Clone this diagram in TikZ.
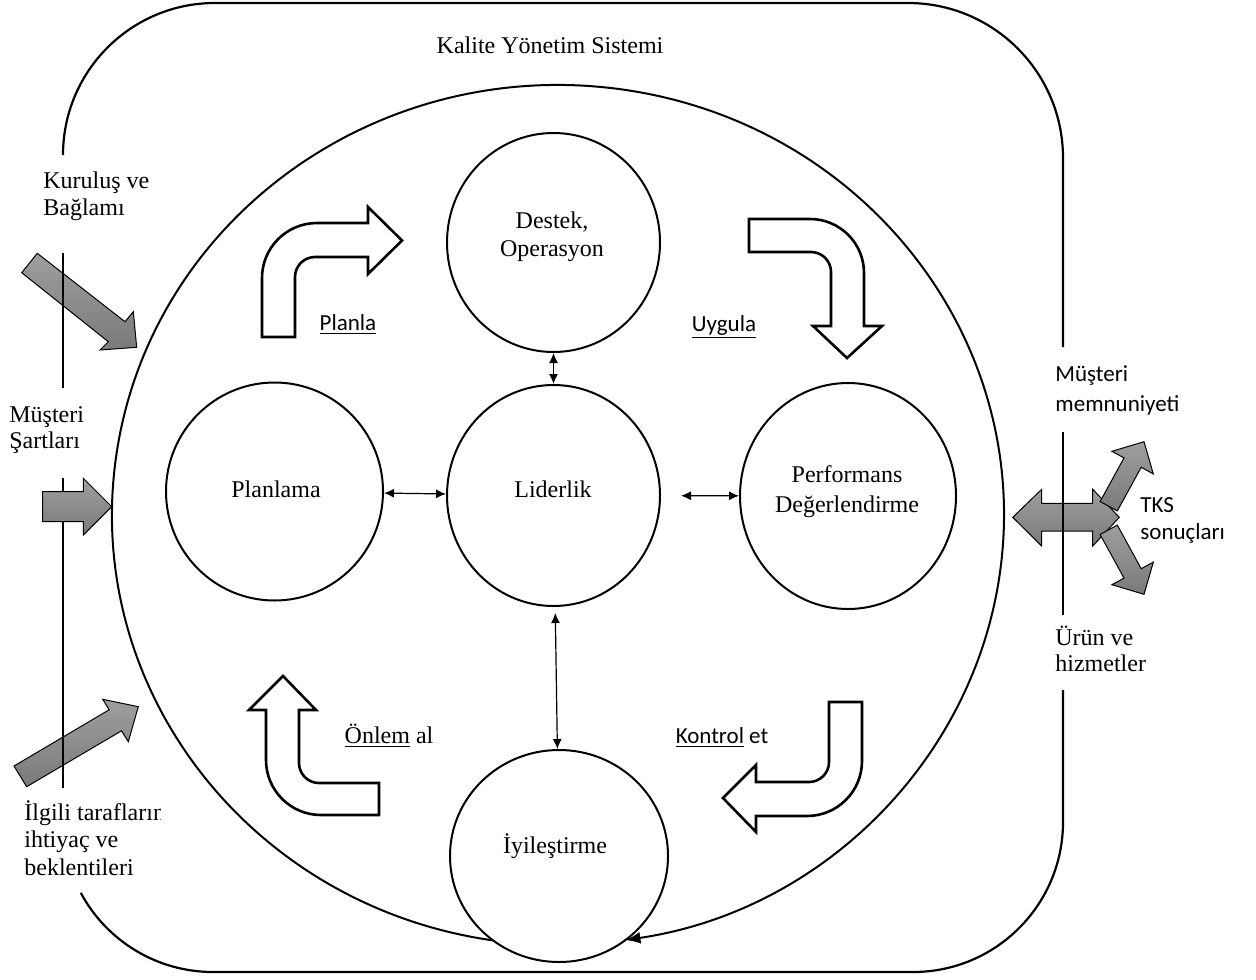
\documentclass[tikz,border=0pt]{standalone}
\usepackage{fontspec}
\setmainfont{Liberation Serif}
\newfontfamily\calib{Carlito}
\usetikzlibrary{arrows.meta,shapes.geometric}
\begin{document}
\begin{tikzpicture}[x=0.5pt,y=-0.5pt,
  frame/.style={line width=1.1pt},
  circ/.style={draw, ellipse, line width=1pt, fill=white, inner sep=0pt},
  dbl/.style={{Latex[length=5pt,width=4.5pt]}-{Latex[length=5pt,width=4.5pt]}, line width=0.6pt},
  bent/.style={draw, line width=1.3pt, fill=white, line join=miter},
  grayarrow/.style={draw=black, line width=0.5pt, top color=black!38, bottom color=black!52},
  lbl/.style={font=\fontsize{12}{13.5}\selectfont, inner sep=0pt},
  clbl/.style={font=\calib\fontsize{11.5}{13.5}\selectfont, inner sep=0pt},
]
\useasboundingbox (0,0) rectangle (1256,979);

% gray input arrows (under the frame lines)
\path[grayarrow] (21.7,272.7) -- (37.3,253.3) -- (125,321.7) -- (133.3,311.7) -- (136.7,347.3) -- (100,350) -- (108.3,341.7) -- cycle;
\path[grayarrow] (14,766) -- (109.1,709.8) -- (102.7,699.3) -- (138.3,706.7) -- (128.3,741.7) -- (121.5,730.8) -- (26.7,786.7) -- cycle;
\path[grayarrow] (1012.7,517.3) -- (1041.7,489.3) -- (1041.7,503.3) -- (1092.7,503.3) -- (1092.7,489.3) -- (1119.3,517.3) -- (1092.7,546) -- (1092.7,531) -- (1041.7,531) -- (1041.7,546) -- cycle;

% outer frame (with gaps for the labels)
\draw[frame] (63,155) arc[start angle=180, end angle=270, radius=152] -- (908,3) arc[start angle=270, end angle=360, radius=155] -- (1063,347);
\draw[frame] (63,253) -- (63,388);
\draw[frame] (63,478) -- (63,788);
\draw[frame] (1063,432) -- (1063,615);
\draw[frame] (1063,690) -- (1063,822) arc[start angle=0, end angle=90, radius=150] -- (213,972) arc[start angle=90, end angle=151.8, radius=150];

% arrows drawn over the frame
\path[grayarrow] (42.7,491.7) -- (83.3,491.7) -- (83.3,478.3) -- (111.7,506.7) -- (83.3,535) -- (83.3,521.7) -- (42.7,521.7) -- cycle;
\path[grayarrow] (1100.1,501.5) -- (1124.0,457.9) -- (1111.9,451.3) -- (1144.0,441.7) -- (1153.3,473.9) -- (1141.2,467.3) -- (1117.3,510.9) -- cycle;
\path[grayarrow] (1100.1,534.5) -- (1124.0,578.1) -- (1111.9,584.7) -- (1144.0,594.3) -- (1153.3,562.1) -- (1141.2,568.7) -- (1117.3,525.1) -- cycle;

% big cycle
\draw[line width=1pt, -{Latex[length=7.5pt,width=6pt]}] (495.9,940.8) arc[start angle=98, end angle=441.3, x radius=446, y radius=430];

% process circles
\node[circ, minimum width=106.5pt, minimum height=109.5pt] (dest) at (553.5,242.5) {};
\node[circ, minimum width=106.5pt, minimum height=110.5pt] (lid) at (553.5,495.5) {};
\node[circ, minimum width=108.5pt, minimum height=109pt] (plan) at (274.5,491.5) {};
\node[circ, minimum width=108pt, minimum height=113pt] (perf) at (848,496) {};
\node[circ, minimum width=109pt, minimum height=106pt] (iyi) at (559,856) {};

\draw[dbl] (dest) -- (lid);
\draw[dbl] (plan) -- (lid);
\draw[dbl, shorten <=10pt] (lid) -- (perf);
\draw[dbl, shorten <=3pt] (lid) -- (iyi);

% bent PDCA arrows
\draw[bent] (262,337) -- (262,278) arc[start angle=180, end angle=270, radius=55] -- (368,223) -- (368,207) -- (402,240.5) -- (368,274) -- (368,257) -- (315,257) arc[start angle=270, end angle=180, radius=20] -- (295,337) -- cycle;
\draw[bent] (749,219) -- (810,219) arc[start angle=270, end angle=360, radius=54] -- (864,326) -- (882,326) -- (847,358) -- (813,326) -- (831,326) -- (831,272) arc[start angle=0, end angle=-90, radius=20] -- (749,252) -- cycle;
\draw[bent] (283,676) -- (316,710) -- (299,710) -- (299,763) arc[start angle=180, end angle=90, radius=20] -- (379,783) -- (379,815) -- (321,815) arc[start angle=90, end angle=180, radius=55] -- (266,710) -- (249,710) -- cycle;
\draw[bent] (829,702) -- (862,702) -- (862,761) arc[start angle=0, end angle=90, radius=55] -- (756,816) -- (756,832) -- (723,798) -- (756,765) -- (756,782) -- (809,782) arc[start angle=90, end angle=0, radius=20] -- cycle;

% texts (anchor=base is the baseline of the last line)
\node[lbl, anchor=base] (title) at (550,54) {Kalite Yönetim Sistemi};
\node[lbl, anchor=base, align=center, font=\fontsize{12}{14}\selectfont] (destt) at (552,256) {Destek,\\Operasyon};
\node[lbl, anchor=base] (lidt) at (553,497) {Liderlik};
\node[lbl, anchor=base] (plant) at (276,497) {Planlama};
\node[lbl, anchor=base, align=center, font=\fontsize{12}{15}\selectfont] (perft) at (847,512) {Performans\\Değerlendirme};
\node[lbl, anchor=base] (iyit) at (555,853) {İyileştirme};
\node[clbl, anchor=base] (planla) at (348,330) {\underline{Planla}};
\node[clbl, anchor=base] (uygula) at (724,331) {\underline{Uygula}};
\node[lbl, anchor=base] (onlem) at (389,743) {\underline{Önlem} al};
\node[clbl, anchor=base] (kontrol) at (722,743) {\underline{Kontrol} et};

\node[lbl, anchor=base west, align=left] (kur) at (43,215) {Kuruluş ve\\Bağlamı};
\node[lbl, anchor=base west, align=left, font=\fontsize{12}{13}\selectfont] (msart) at (9,448) {Müşteri\\Şartları};
\begin{scope}
\clip (0,790) rectangle (160,900);
\node[lbl, anchor=base west, align=left, font=\fontsize{12}{13.75}\selectfont] (ilgili) at (24,875) {İlgili tarafların\\ihtiyaç ve\\beklentileri};
\end{scope}
\node[clbl, anchor=base west, align=left, font=\calib\fontsize{11.5}{15}\selectfont] (mmem) at (1055,411.7) {Müşteri\\memnuniyeti};
\node[clbl, anchor=base west, align=left] (tks) at (1140,539) {TKS\\sonuçları};
\node[lbl, anchor=base west, align=left, font=\fontsize{12}{13.3}\selectfont] (urun) at (1055,671.7) {Ürün ve\\hizmetler};
\end{tikzpicture}
\end{document}
